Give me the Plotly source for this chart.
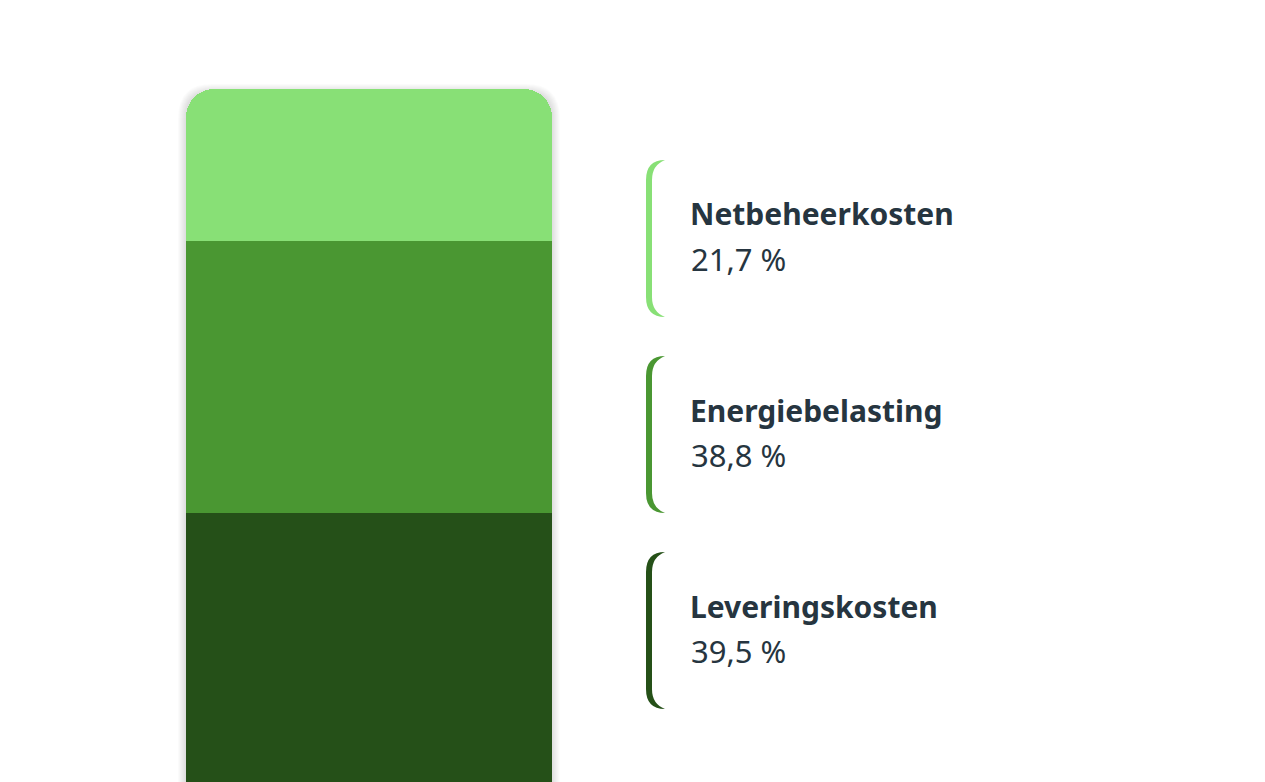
import plotly.graph_objects as go

categories = ["Leveringskosten", "Energiebelasting", "Netbeheerkosten"]
values = [39.5, 38.8, 21.7]
labels = ["39,5 %", "38,8 %", "21,7 %"]
colors = ["#255018", "#4a9732", "#88e076"]

W, H = 1265, 782
OFF = 8  # page margin of the browser
text_color = "#263540"


def to_paper(path):
    # turn a path in screen pixels into paper coordinates
    out = []
    for p in path.split():
        if "," in p:
            px, py = p.split(",")
            out.append(f"{(float(px) - OFF) / W:.5f},{1 - (float(py) - OFF) / H:.5f}")
        else:
            out.append(p)
    return " ".join(out)


fig = go.Figure()
for cat, val, col in zip(categories, values, colors):
    fig.add_trace(go.Bar(x=[0.5], y=[val], width=1, name=cat,
                         marker=dict(color=col, line=dict(width=0)),
                         hoverinfo="name+y"))

# soft shadow round the bar
for k in range(1, 9):
    x0, x1, y0, r = 186 - k, 552 + k, 89 - k + 3, 26 + k
    p = (f"M {x0},800 L {x0},{y0+r} Q {x0},{y0} {x0+r},{y0} L {x1-r},{y0} "
         f"Q {x1},{y0} {x1},{y0+r} L {x1},800 Z")
    fig.add_shape(type="path", path=to_paper(p), xref="paper", yref="paper",
                  fillcolor="rgba(0,0,0,0.014)", line=dict(width=0), layer="below")

# legend blocks: bracket + name + value (from top to bottom)
block_tops = [160, 356, 552]
for i, top in enumerate(block_tops):
    idx = len(categories) - 1 - i
    col = colors[idx]
    b = top + 157
    path = (f"M 665,{top} Q 646,{top} 646,{top+20} L 646,{b-20} "
            f"Q 646,{b} 665,{b} Q 652,{b-5} 652,{b-20} L 652,{top+20} "
            f"Q 652,{top+5} 665,{top} Z")
    fig.add_shape(type="path", path=to_paper(path), xref="paper", yref="paper",
                  fillcolor=col, line=dict(width=0))
    fig.add_annotation(x=(688 - OFF) / W, y=1 - (top + 54 - OFF) / H,
                       xref="paper", yref="paper",
                       text="<b>" + categories[idx] + "</b>", showarrow=False,
                       xanchor="left", yanchor="middle",
                       font=dict(size=30, color=text_color, family="Noto Sans"))
    fig.add_annotation(x=(689 - OFF) / W, y=1 - (top + 99 - OFF) / H,
                       xref="paper", yref="paper",
                       text=labels[idx], showarrow=False,
                       xanchor="left", yanchor="middle",
                       font=dict(size=31, color=text_color, family="Noto Sans"))

# bar: left edge at 186 px, right edge at 552 px, top (100 %) at 89 px
x_left, x_right = 186 - OFF, 552 - OFF
px_per_pct = 7.0
y_hi = 100 + (89 - OFF) / px_per_pct
y_lo = y_hi - H / px_per_pct

fig.update_layout(
    width=W, height=H,
    barmode="stack",
    barcornerradius=28,
    showlegend=False,
    margin=dict(l=0, r=0, t=0, b=0),
    paper_bgcolor="white",
    plot_bgcolor="white",
    xaxis=dict(range=[-x_left / (x_right - x_left), (W - x_left) / (x_right - x_left)],
               visible=False, fixedrange=True),
    yaxis=dict(range=[y_lo, y_hi], visible=False, fixedrange=True),
)

fig.write_html("out.html")
